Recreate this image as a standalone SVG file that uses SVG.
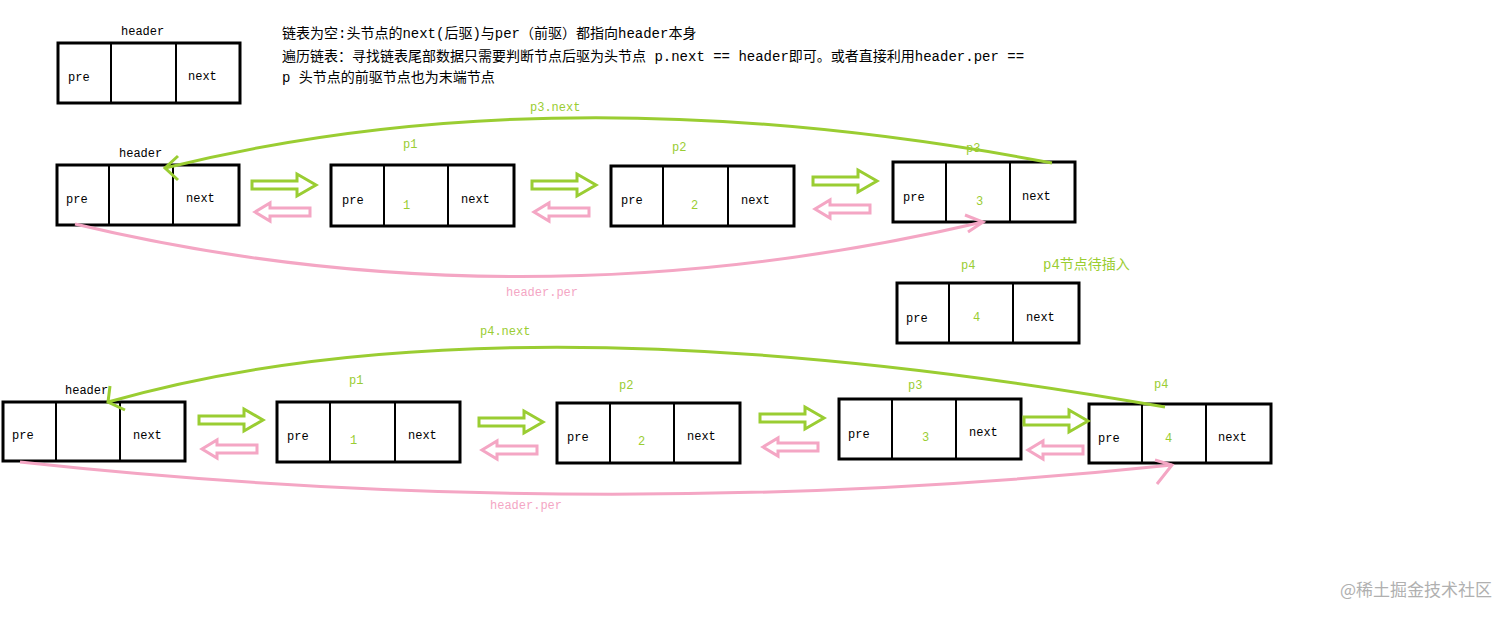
<svg xmlns="http://www.w3.org/2000/svg" width="1512" height="619" viewBox="0 0 1512 619">
<style>
.box{fill:#fff;stroke:#000;stroke-width:3}
.div{stroke:#000;stroke-width:2}
.t{font-family:"Liberation Mono","Noto Sans CJK SC",monospace;font-size:12px;fill:#000}
.cn{font-family:"Liberation Mono","Noto Sans CJK SC",monospace;font-size:14px;fill:#000}
.g{fill:#9acd32}
.p{fill:#f4a6c4}
.ga{fill:#fff;stroke:#9acd32;stroke-width:3}
.pa{fill:#fff;stroke:#f4a6c4;stroke-width:3}
.gl{fill:none;stroke:#9acd32;stroke-width:3}
.pl{fill:none;stroke:#f4a6c4;stroke-width:3}
</style>
<defs>
<path id="ra" d="M0,-4 H45 V-11 L64,0 L45,11 V4 H0 Z"/>
<path id="la" d="M0,-4 H-40 V-9 L-55,0 L-40,9 V4 H0 Z"/>
</defs>
<rect width="1512" height="619" fill="#fff"/>
<g id="header0"><text class="t" x="121" y="35">header</text><rect class="box" x="58" y="43" width="182" height="60"/><line class="div" x1="111" y1="43" x2="111" y2="103"/><line class="div" x1="176" y1="43" x2="176" y2="103"/><text class="t" x="68" y="81">pre</text><text class="t" x="188" y="80">next</text></g>
<g id="desc"><text class="cn" x="282" y="38">链表为空:头节点的next(后驱)与per（前驱）都指向header本身</text><text class="cn" x="282" y="61">遍历链表：寻找链表尾部数据只需要判断节点后驱为头节点 p.next == header即可。或者直接利用header.per ==</text><text class="cn" x="282" y="82">p 头节点的前驱节点也为末端节点</text></g>
<g id="h1"><text class="t" x="119" y="157">header</text><rect class="box" x="57" y="165" width="182" height="60"/><line class="div" x1="109" y1="165" x2="109" y2="225"/><line class="div" x1="173" y1="165" x2="173" y2="225"/><text class="t" x="66" y="203">pre</text><text class="t" x="186" y="202">next</text></g>
<g id="r1p1"><text class="t g" x="403" y="148">p1</text><rect class="box" x="331" y="165" width="183" height="61"/><line class="div" x1="384" y1="165" x2="384" y2="226"/><line class="div" x1="448" y1="165" x2="448" y2="226"/><text class="t" x="342" y="204">pre</text><text class="t g" x="403" y="209">1</text><text class="t" x="461" y="203">next</text></g>
<g id="r1p2"><text class="t g" x="672" y="151">p2</text><rect class="box" x="611" y="166" width="183" height="60"/><line class="div" x1="663" y1="166" x2="663" y2="226"/><line class="div" x1="728" y1="166" x2="728" y2="226"/><text class="t" x="621" y="204">pre</text><text class="t g" x="691" y="209">2</text><text class="t" x="741" y="204">next</text></g>
<g id="r1p3"><text class="t g" x="966" y="152">p3</text><rect class="box" x="893" y="162" width="182" height="60"/><line class="div" x1="946" y1="162" x2="946" y2="222"/><line class="div" x1="1010" y1="162" x2="1010" y2="222"/><text class="t" x="903" y="201">pre</text><text class="t g" x="976" y="205">3</text><text class="t" x="1022" y="200">next</text></g>
<g id="r1p4"><text class="t g" x="961" y="269">p4</text><text x="1043" y="269" font-family="Liberation Mono,Noto Sans CJK SC,monospace" font-size="14" fill="#9acd32">p4节点待插入</text><rect class="box" x="897" y="283" width="182" height="60"/><line class="div" x1="949" y1="283" x2="949" y2="343"/><line class="div" x1="1013" y1="283" x2="1013" y2="343"/><text class="t" x="906" y="322">pre</text><text class="t g" x="973" y="321">4</text><text class="t" x="1026" y="321">next</text></g>
<g id="h2"><text class="t" x="65" y="394">header</text><rect class="box" x="3" y="402" width="182" height="59"/><line class="div" x1="56" y1="402" x2="56" y2="461"/><line class="div" x1="120" y1="402" x2="120" y2="461"/><text class="t" x="12" y="439">pre</text><text class="t" x="133" y="439">next</text></g>
<g id="r2p1"><text class="t g" x="349" y="384">p1</text><rect class="box" x="277" y="402" width="183" height="60"/><line class="div" x1="330" y1="402" x2="330" y2="462"/><line class="div" x1="395" y1="402" x2="395" y2="462"/><text class="t" x="287" y="440">pre</text><text class="t g" x="350" y="444">1</text><text class="t" x="408" y="439">next</text></g>
<g id="r2p2"><text class="t g" x="619" y="389">p2</text><rect class="box" x="557" y="403" width="183" height="60"/><line class="div" x1="610" y1="403" x2="610" y2="463"/><line class="div" x1="674" y1="403" x2="674" y2="463"/><text class="t" x="567" y="441">pre</text><text class="t g" x="638" y="445">2</text><text class="t" x="687" y="440">next</text></g>
<g id="r2p3"><text class="t g" x="908" y="389">p3</text><rect class="box" x="839" y="399" width="182" height="60"/><line class="div" x1="892" y1="399" x2="892" y2="459"/><line class="div" x1="956" y1="399" x2="956" y2="459"/><text class="t" x="848" y="438">pre</text><text class="t g" x="922" y="441">3</text><text class="t" x="969" y="436">next</text></g>
<g id="r2p4"><text class="t g" x="1154" y="388">p4</text><rect class="box" x="1089" y="404" width="182" height="59"/><line class="div" x1="1142" y1="404" x2="1142" y2="463"/><line class="div" x1="1206" y1="404" x2="1206" y2="463"/><text class="t" x="1098" y="442">pre</text><text class="t g" x="1165" y="442">4</text><text class="t" x="1218" y="441">next</text></g>
<g id="connectors">
<path class="gl" d="M1052,163 Q560,70 165,168"/><path class="gl" d="M178,156 L165,168 L178,180"/>
<path class="pl" d="M75,224 Q520,330 983,222"/><path class="pl" d="M965,215 L983,222 L968,232"/>
<path class="gl" d="M1165,407 Q500,290 108,402"/><path class="gl" d="M110,386 L108,402 L125,410"/>
<path class="pl" d="M20,462 Q600,525 1172,465"/><path class="pl" d="M1155,460 L1172,465 L1157,484"/>
<use href="#ra" class="ga" x="252" y="185"/><use href="#la" class="pa" x="310" y="212"/>
<use href="#ra" class="ga" x="532" y="185"/><use href="#la" class="pa" x="589" y="212"/>
<use href="#ra" class="ga" x="813" y="181"/><use href="#la" class="pa" x="870" y="209"/>
<use href="#ra" class="ga" x="199" y="420"/><use href="#la" class="pa" x="257" y="449"/>
<use href="#ra" class="ga" x="479" y="422"/><use href="#la" class="pa" x="537" y="450"/>
<use href="#ra" class="ga" x="760" y="418"/><use href="#la" class="pa" x="818" y="447"/>
<use href="#ra" class="ga" x="1024" y="421"/><use href="#la" class="pa" x="1083" y="450"/>
<text class="t g" x="530" y="111">p3.next</text><text class="t p" x="506" y="296">header.per</text>
<text class="t g" x="480" y="335">p4.next</text><text class="t p" x="490" y="509">header.per</text>
</g>
<text x="1492" y="596" text-anchor="end" font-family="Noto Sans CJK SC,sans-serif" font-size="17" fill="#b0b0b0">@稀土掘金技术社区</text>
</svg>
